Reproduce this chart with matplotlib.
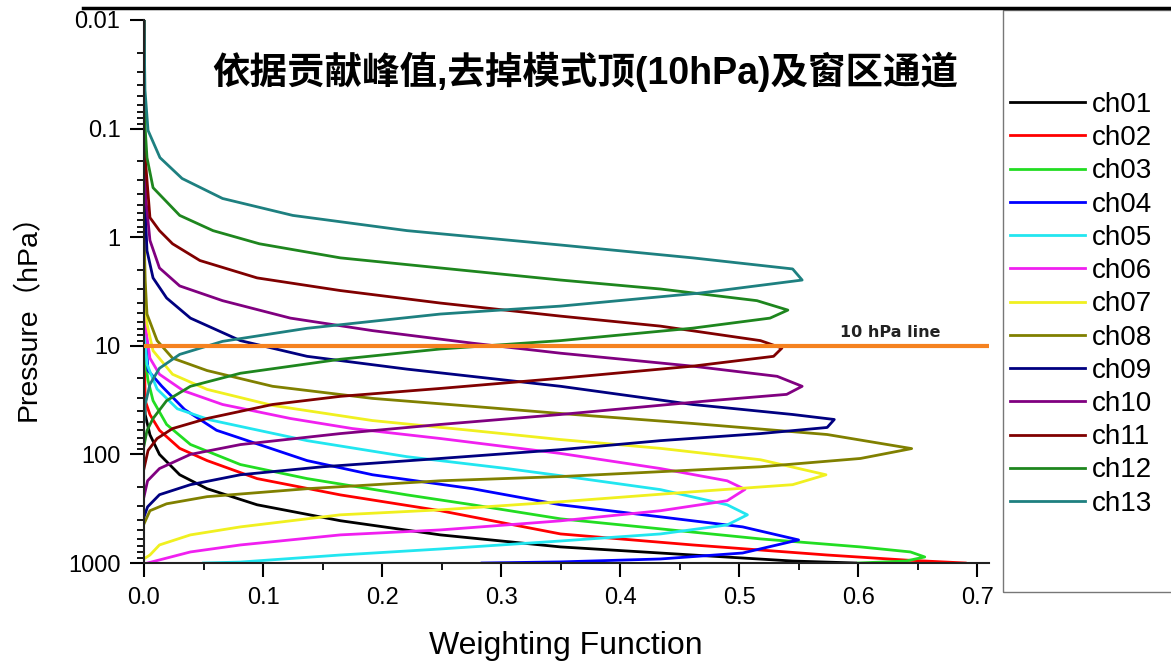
import matplotlib
matplotlib.use('Agg')
import matplotlib.pyplot as plt
from matplotlib.lines import Line2D
from matplotlib.patches import Rectangle
from matplotlib.ticker import MultipleLocator, FixedLocator, FixedFormatter, LogLocator, NullFormatter

plt.rcParams['font.family'] = ['Liberation Sans', 'Noto Sans CJK SC', 'DejaVu Sans']

# weighting function value (w) against pressure in hPa (p)
ch01_w = [0, 0, 0.001, 0.005, 0.013, 0.030, 0.053, 0.095, 0.165, 0.249, 0.35, 0.461, 0.545, 0.598]
ch01_p = [0.01, 17, 43, 66, 100, 154, 207, 291, 408, 551, 711, 844, 959, 1000]

ch02_w = [0, 0, 0.001, 0.005, 0.013, 0.030, 0.053, 0.095, 0.165, 0.249, 0.35, 0.461, 0.574, 0.64, 0.69]
ch02_p = [0.01, 9, 32, 43, 60, 88, 114, 167, 236, 330, 540, 682, 844, 940, 1000]

ch03_w = [0, 0, 0.001, 0.0034, 0.0076, 0.019, 0.039, 0.081, 0.137, 0.221, 0.276, 0.35, 0.434, 0.518, 0.602, 0.644, 0.656, 0.64, 0.6]
ch03_p = [0.01, 5.9, 13.7, 20.9, 32, 53, 81, 124, 167, 236, 291, 392, 485, 600, 711, 791, 880, 960, 1000]

ch04_w = [0, 0, 0.001, 0.0034, 0.015, 0.034, 0.061, 0.081, 0.137, 0.192, 0.276, 0.35, 0.434, 0.503, 0.55, 0.503, 0.434, 0.35, 0.284]
ch04_p = [0.01, 3.1, 7.25, 16.9, 23.6, 38.5, 60, 71, 114, 154, 207, 291, 376, 465, 613, 809, 918, 977, 1000]

ch05_w = [0, 0, 0.001, 0.0025, 0.011, 0.028, 0.055, 0.09, 0.137, 0.221, 0.305, 0.35, 0.434, 0.49, 0.507, 0.49, 0.434, 0.35, 0.249, 0.165, 0.081, 0.05]
ch05_p = [0.01, 3.84, 9.0, 14.8, 25, 38, 48, 58, 74.7, 105, 135, 157, 211, 291, 360, 446, 540, 627, 743, 844, 980, 1000]

ch06_w = [0, 0, 0.0017, 0.005, 0.013, 0.033, 0.066, 0.123, 0.175, 0.249, 0.35, 0.434, 0.49, 0.505, 0.49, 0.434, 0.35, 0.249, 0.165, 0.081, 0.039, 0.013, 0.003]
ch06_p = [0.01, 2.5, 7.25, 13, 18.3, 25.9, 34.7, 46.7, 57.8, 71.4, 98, 135, 175, 210, 267, 330, 409, 496, 551, 682, 791, 937, 1000]

ch07_w = [0, 0, 0.001, 0.0025, 0.0076, 0.024, 0.053, 0.108, 0.192, 0.276, 0.35, 0.434, 0.518, 0.573, 0.545, 0.461, 0.35, 0.249, 0.165, 0.081, 0.039, 0.013, 0.005, 0.001]
ch07_p = [0.01, 1.33, 3.6, 6.3, 11.1, 18.3, 25.2, 35.4, 48.8, 60.3, 73, 88, 112, 154, 190, 221, 273, 324, 360, 465, 551, 682, 844, 900]

ch08_w = [0, 0, 0.001, 0.0025, 0.011, 0.024, 0.053, 0.108, 0.192, 0.276, 0.35, 0.461, 0.574, 0.645, 0.602, 0.518, 0.35, 0.249, 0.137, 0.053, 0.019, 0.005, 0]
ch08_p = [0.01, 0.87, 2.51, 5.1, 8.96, 13, 16.9, 23.6, 30.5, 36.1, 42, 51.9, 65.6, 88.4, 109, 130, 160, 175, 207, 245, 285, 330, 436]

ch09_w = [0, 0, 0.0025, 0.0076, 0.019, 0.039, 0.081, 0.137, 0.221, 0.35, 0.461, 0.545, 0.58, 0.574, 0.518, 0.434, 0.35, 0.249, 0.15, 0.081, 0.039, 0.013, 0.003, 0]
ch09_p = [0.01, 0.3, 1.33, 2.37, 3.63, 5.56, 8.96, 12.5, 16.4, 23.6, 34.7, 42.9, 47.7, 56.5, 64.3, 74.7, 90.4, 109, 130, 154, 190, 235, 304, 376]

ch10_w = [0, 0, 0.0017, 0.005, 0.013, 0.030, 0.066, 0.123, 0.192, 0.276, 0.35, 0.461, 0.532, 0.553, 0.540, 0.476, 0.35, 0.249, 0.165, 0.081, 0.039, 0.013, 0.003, 0]
ch10_p = [0.01, 0.16, 0.46, 1.07, 1.92, 2.81, 3.84, 5.56, 7.25, 9.46, 11.7, 15.4, 19.1, 23.6, 28, 32, 42.9, 53, 64.3, 81.2, 100, 135, 175, 245]

ch11_w = [0, 0, 0.001, 0.005, 0.013, 0.024, 0.047, 0.095, 0.165, 0.249, 0.35, 0.434, 0.518, 0.536, 0.529, 0.461, 0.35, 0.249, 0.165, 0.108, 0.053, 0.024, 0.011, 0.0034, 0]
ch11_p = [0.01, 0.055, 0.185, 0.66, 0.87, 1.15, 1.64, 2.37, 3.1, 4.04, 5.33, 6.59, 8.96, 10.5, 12.5, 15.4, 19.9, 24.7, 29.2, 34.7, 46.7, 57.8, 71.4, 92, 135]

ch12_w = [0, 0, 0.001, 0.0025, 0.0076, 0.030, 0.058, 0.097, 0.165, 0.249, 0.35, 0.434, 0.515, 0.541, 0.526, 0.461, 0.35, 0.249, 0.165, 0.081, 0.039, 0.019, 0.0076, 0.0025, 0]
ch12_p = [0.01, 0.036, 0.1, 0.185, 0.35, 0.63, 0.87, 1.15, 1.55, 1.92, 2.48, 3.0, 3.84, 4.69, 5.56, 6.88, 8.96, 10.7, 13.3, 17.9, 23.6, 32, 46.7, 60.4, 83]

ch13_w = [0, 0.0008, 0.0034, 0.0134, 0.032, 0.066, 0.125, 0.221, 0.35, 0.461, 0.545, 0.553, 0.467, 0.35, 0.249, 0.137, 0.066, 0.030, 0.013, 0.005, 0.001, 0]
ch13_p = [0.01, 0.044, 0.104, 0.185, 0.288, 0.44, 0.63, 0.87, 1.18, 1.55, 1.96, 2.48, 3.27, 4.31, 5.1, 6.9, 9.1, 12.0, 16.1, 22.6, 34.7, 50]

channels = ['ch01', 'ch02', 'ch03', 'ch04', 'ch05', 'ch06', 'ch07',
            'ch08', 'ch09', 'ch10', 'ch11', 'ch12', 'ch13']
weights = [ch01_w, ch02_w, ch03_w, ch04_w, ch05_w, ch06_w, ch07_w,
           ch08_w, ch09_w, ch10_w, ch11_w, ch12_w, ch13_w]
pressures = [ch01_p, ch02_p, ch03_p, ch04_p, ch05_p, ch06_p, ch07_p,
             ch08_p, ch09_p, ch10_p, ch11_p, ch12_p, ch13_p]
colors = ['#000000', '#ff0000', '#22dd22', '#0000ff', '#22e6f0', '#f020f0', '#f0f020',
          '#808000', '#000080', '#800080', '#800000', '#1e861e', '#1e8080']

y_ticks = [0.01, 0.1, 1, 10, 100, 1000]
y_labels = ['0.01', '0.1', '1', '10', '100', '1000']
line_p = 10

fig = plt.figure(figsize=(11.71, 6.65), dpi=100)
ax = fig.add_axes([144/1171, 1 - 563/665, (989 - 144)/1171, (563 - 20)/665])

handles = []
for name, w, p, c in zip(channels, weights, pressures, colors):
    ln, = ax.plot(w, p, color=c, linewidth=2.0, solid_joinstyle='round', label=name)
    handles.append(ln)

ax.axhline(line_p, color='#f58220', linewidth=3, zorder=5)
ax.text(0.627, 7.6, '10 hPa line', family='DejaVu Sans', fontweight='bold',
        fontsize=11.5, ha='center', va='center', color='#222222')

ax.set_yscale('log')
ax.set_ylim(1000, 0.01)
ax.set_xlim(0, 0.71)

ax.yaxis.set_major_locator(FixedLocator(y_ticks))
ax.yaxis.set_major_formatter(FixedFormatter(y_labels))
ax.yaxis.set_minor_locator(LogLocator(base=10, subs=range(2, 10)))
ax.yaxis.set_minor_formatter(NullFormatter())
ax.xaxis.set_major_locator(MultipleLocator(0.1))
ax.xaxis.set_minor_locator(MultipleLocator(0.05))
ax.xaxis.set_major_formatter(lambda v, pos: f'{v:.1f}')

ax.tick_params(which='major', direction='out', length=10, width=1.5, labelsize=17, pad=7)
ax.tick_params(which='minor', direction='out', length=5, width=1.3)
for s in ['top', 'right']:
    ax.spines[s].set_visible(False)
for s in ['left', 'bottom']:
    ax.spines[s].set_linewidth(1.5)
    ax.spines[s].set_color('#222222')

fig.text(585/1171, 1 - 72/665, '依据贡献峰值,去掉模式顶(10hPa)及窗区通道',
         fontsize=27, fontweight='bold', ha='center', va='center')
fig.text(28/1171, 1 - 310/665, 'Pressure（hPa）', fontsize=20.5, rotation=90,
         ha='center', va='center')
fig.text(566/1171, 1 - 646/665, 'Weighting Function', fontsize=23,
         ha='center', va='center')

# frame line along the top and the legend box
fig.add_artist(Line2D([83/1171, 1], [1 - 8/665, 1 - 8/665], color='black',
                      linewidth=2.5, transform=fig.transFigure))
fig.add_artist(Rectangle((1003/1171, 1 - 592/665), 0.2, (592 - 10)/665,
                         fill=False, edgecolor='#777777', linewidth=1,
                         transform=fig.transFigure))

fig.legend(handles=handles, loc='upper left', bbox_to_anchor=(1010/1171, 1 - 92/665),
           frameon=False, fontsize=20, handlelength=2.7, handletextpad=0.25,
           labelspacing=0.26, borderpad=0, borderaxespad=0)

fig.savefig('out.png', dpi=100)
